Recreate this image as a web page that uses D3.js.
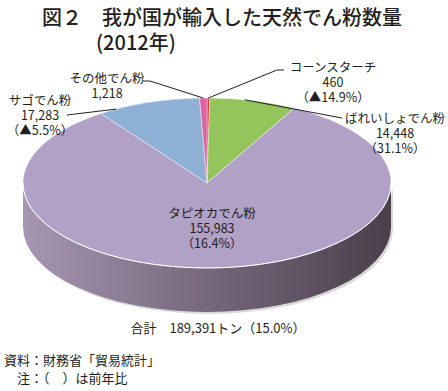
<!DOCTYPE html>
<html lang="ja">
<head>
<meta charset="UTF-8">
<title>天然でん粉数量</title>
<script src="https://d3js.org/d3.v7.min.js"></script>
<style>
  body { margin: 0; background: #fff; }
  text { font-family: "Noto Sans CJK JP", "Noto Sans", sans-serif; fill: #231f20; }
</style>
</head>
<body>
<div id="chart"></div>
<script>
// data
var names   = ["コーンスターチ", "ばれいしょでん粉", "タピオカでん粉", "サゴでん粉", "その他でん粉"];
var values  = [460, 14448, 155983, 17283, 1218];
var valueLabels = ["460", "14,448", "155,983", "17,283", "1,218"];
var changes = ["（▲14.9%）", "（31.1%）", "（16.4%）", "（▲5.5%）", ""];
var colors  = ["#e2373f", "#93c55c", "#b1a1c6", "#8fb0d5", "#dc64a4"];
var totalLabel = "合計　189,391トン（15.0%）";

var W = 448, H = 391;
var cx = 207, cy = 183, rx = 184, ry = 85, depth = 44;

var svg = d3.select("#chart").append("svg")
    .attr("width", W).attr("height", H);

var defs = svg.append("defs");
var grad = defs.append("linearGradient").attr("id", "side")
    .attr("x1", "0%").attr("x2", "100%").attr("y1", "0%").attr("y2", "0%");
grad.append("stop").attr("offset", "0%").attr("stop-color", "#a796b2");
grad.append("stop").attr("offset", "45%").attr("stop-color", "#7b6c82");
grad.append("stop").attr("offset", "100%").attr("stop-color", "#4a3f4a");

// angles from the pie layout, 0 = 12 o'clock, clockwise
var pie = d3.pie().sort(null).startAngle(0).endAngle(2 * Math.PI);
var arcs = pie(values);

function px(a) { return cx + rx * Math.sin(a); }
function py(a, dy) { return cy - ry * Math.cos(a) + (dy || 0); }

function topPath(d) {
  var large = (d.endAngle - d.startAngle) > Math.PI ? 1 : 0;
  return "M" + cx + "," + cy +
    "L" + px(d.startAngle) + "," + py(d.startAngle) +
    "A" + rx + "," + ry + " 0 " + large + " 1 " + px(d.endAngle) + "," + py(d.endAngle) + "Z";
}

function sidePath(a0, a1) {
  var large = (a1 - a0) > Math.PI ? 1 : 0;
  return "M" + px(a0) + "," + py(a0) +
    "A" + rx + "," + ry + " 0 " + large + " 1 " + px(a1) + "," + py(a1) +
    "L" + px(a1) + "," + py(a1, depth) +
    "A" + rx + "," + ry + " 0 " + large + " 0 " + px(a0) + "," + py(a0, depth) + "Z";
}

// soft shadow under the pie
svg.append("path")
    .attr("d", sidePath(Math.PI / 2, 3 * Math.PI / 2))
    .attr("transform", "translate(2,2)")
    .attr("fill", "#cfcfcf")
    .attr("opacity", 0.8);

// visible sides (front half only)
arcs.forEach(function(d, i) {
  var a0 = Math.max(d.startAngle, Math.PI / 2),
      a1 = Math.min(d.endAngle, 3 * Math.PI / 2);
  if (a1 > a0) {
    svg.append("path")
        .attr("d", sidePath(a0, a1))
        .attr("fill", i == 2 ? "url(#side)" : d3.color(colors[i]).darker(1));
  }
});

// top faces
svg.selectAll(".slice")
  .data(arcs)
  .enter()
  .append("path")
    .attr("class", "slice")
    .attr("d", topPath)
    .attr("fill", function(d, i) { return colors[i]; })
    .attr("stroke", "#ffffff")
    .attr("stroke-width", 0.6)
    .attr("stroke-opacity", 0.7);

// white highlight along front rim
svg.append("path")
    .attr("d", "M" + px(Math.PI / 2) + "," + py(Math.PI / 2) +
      "A" + rx + "," + ry + " 0 0 1 " + px(3 * Math.PI / 2) + "," + py(3 * Math.PI / 2))
    .attr("fill", "none")
    .attr("stroke", "#ffffff")
    .attr("stroke-width", 1);

// title
svg.append("text").attr("x", 42).attr("y", 25)
    .style("font-size", "20px").style("font-weight", 500)
    .text("図２　我が国が輸入した天然でん粉数量");
svg.append("text").attr("x", 96).attr("y", 50)
    .style("font-size", "20px").style("font-weight", 500)
    .text("(2012年)");

// leader lines
function rimPoint(i, f) {
  var d = arcs[i], a = d.startAngle + (d.endAngle - d.startAngle) * f;
  return [px(a), py(a)];
}
var line = d3.line();
var leaders = [
  [[284, 70], [277, 70], rimPoint(0, 0.5)],
  [[342, 118], rimPoint(1, 0.4)],
  [[67, 115], rimPoint(3, 0.17)],
  [[143, 81], [150, 81], rimPoint(4, 0.5)]
];
svg.selectAll(".leader")
  .data(leaders)
  .enter()
  .append("path")
    .attr("d", line)
    .attr("fill", "none")
    .attr("stroke", "#231f20")
    .attr("stroke-width", 1);

// slice labels, one text per line
var labelPos = [[333, 72], [395, 123], [212, 218], [40, 105], [107, 83]];
arcs.forEach(function(d, i) {
  var lines = [names[i], valueLabels[i]];
  if (changes[i]) lines.push(changes[i]);
  lines.forEach(function(s, k) {
    svg.append("text")
        .attr("x", labelPos[i][0])
        .attr("y", labelPos[i][1] + k * 15)
        .attr("text-anchor", "middle")
        .style("font-size", "12.5px")
        .text(s);
  });
});

// total
svg.append("text").attr("x", 218).attr("y", 333)
    .attr("text-anchor", "middle")
    .style("font-size", "13px").text(totalLabel);

// source / note
svg.append("text").attr("x", 4).attr("y", 365)
    .style("font-size", "13px").text("資料：財務省「貿易統計」");
svg.append("text").attr("x", 17).attr("y", 383)
    .style("font-size", "13px").text("注：（　）は前年比");
</script>
</body>
</html>
